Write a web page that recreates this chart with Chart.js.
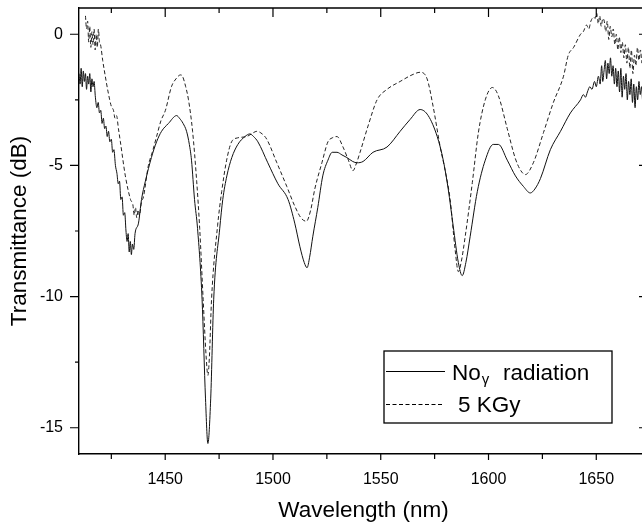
<!DOCTYPE html>
<html>
<head>
<meta charset="utf-8">
<script src="https://cdn.jsdelivr.net/npm/chart.js@4"></script>
<style>
  html, body { margin: 0; padding: 0; background: #fff; overflow: hidden; }
  #wrap { width: 642px; height: 526px; overflow: hidden; }
</style>
</head>
<body>
<div id="wrap"><canvas id="transChart" width="648" height="526"></canvas></div>
<script>
// tick values
const xTicks = [1450, 1500, 1550, 1600, 1650];
const xMinorTicks = [1425, 1475, 1525, 1575, 1625];
const yTicks = [-15, -10, -5, 0];
const yMinorTicks = [-12.5, -7.5, -2.5];

// No gamma radiation (solid)
const wlNoRad = [
  1410, 1410.5, 1411, 1411.5, 1412, 1412.5, 1413, 1413.5, 1414, 1414.5, 1415, 1415.5, 1416, 1416.5, 1417,
  1417.6, 1418.3, 1418.9, 1419.5, 1420.1, 1420.7, 1421.3, 1421.9, 1422.5, 1423.1, 1423.7, 1424.3, 1425,
  1425.6, 1426.2, 1426.9, 1427.6, 1428.2, 1428.8, 1429.4, 1430, 1430.6, 1431.2, 1431.8, 1432.3, 1432.8,
  1433.3, 1433.8, 1434.3, 1434.8, 1435.4, 1436, 1437.6, 1439, 1440.8, 1443.6, 1446, 1448.3, 1451.5,
  1455.3, 1456.6, 1458.3, 1459.9, 1461.2, 1462.2, 1463.6, 1465, 1467.1, 1468.7, 1469.8, 1471.1, 1472.5,
  1475.3, 1476.7, 1478.6, 1480.9, 1483.7, 1487, 1489.3, 1491, 1493, 1497.6, 1502.3, 1507, 1510.1,
  1512.5, 1514.5, 1515.8, 1517, 1518.5, 1520.8, 1523.1, 1525.5, 1527.5, 1529.7, 1532, 1534.3, 1537,
  1539, 1541.8, 1546.4, 1552.9, 1559, 1563.6, 1568.3, 1572, 1576.2, 1579, 1581.3, 1583.6, 1586,
  1587.8, 1589.5, 1591.5, 1594.8, 1598.5, 1602.2, 1604.6, 1608.7, 1612.5, 1616.2, 1619.4, 1621.5,
  1624.1, 1628.7, 1633.4, 1638, 1642.7, 1644, 1645, 1645.9, 1647, 1648, 1649.2, 1650, 1651, 1651.8,
  1652.5, 1653, 1653.6, 1654.2, 1654.8, 1655.4, 1656, 1656.6, 1657.2, 1657.8, 1658.4, 1659, 1659.6,
  1660.2, 1660.8, 1661.4, 1662, 1662.6, 1663.2, 1663.8, 1664.4, 1665, 1665.6, 1666.2, 1666.8, 1667.4,
  1668, 1668.6, 1669.2, 1669.8, 1670.4, 1671, 1671.6, 1672.2, 1673, 1674
];
const dbNoRad = [
  -1.5, -1.9, -1.3, -2.0, -1.4, -1.8, -1.5, -2.1, -1.6, -1.9, -1.5, -2.2, -1.7, -2.0, -1.8,
  -2.4, -2.8, -2.6, -3.0, -2.9, -3.4, -3.2, -3.6, -3.5, -3.9, -3.7, -4.1, -4.0,
  -4.5, -4.4, -5.0, -5.3, -5.7, -5.6, -6.3, -6.2, -6.9, -6.8, -7.5, -7.9, -7.6,
  -8.3, -7.9, -8.4, -8.0, -8.2, -7.6, -7.2, -6.3, -5.6, -4.7, -4.1, -3.7, -3.4,
  -3.1, -3.2, -3.4, -3.7, -4.2, -4.8, -6.3, -7.4, -10.1, -13.9, -15.6, -13.9, -10.1,
  -7.4, -6.3, -5.4, -4.7, -4.2, -3.9, -3.8, -3.9, -4.1, -4.9, -5.7, -6.3, -7.2,
  -8.1, -8.7, -8.9, -8.5, -7.7, -6.6, -5.4, -4.8, -4.5, -4.5, -4.6, -4.7, -4.85,
  -4.9, -4.85, -4.5, -4.3, -3.7, -3.25, -2.87, -3.1, -3.9, -4.8, -5.9, -7.3, -8.7,
  -9.2, -8.7, -7.7, -6.0, -4.8, -4.2, -4.2, -4.8, -5.4, -5.8, -6.05, -5.9,
  -5.5, -4.4, -3.7, -3.0, -2.5, -2.3, -2.4, -2.2, -2.0, -2.1, -1.8, -2.0, -1.6, -1.9,
  -1.2, -1.8, -1.4, -1.0, -1.7, -1.1, -1.5, -0.9, -1.6, -1.2, -1.9, -1.3, -2.0,
  -1.4, -2.2, -1.3, -2.4, -1.6, -2.1, -1.5, -2.5, -1.8, -2.3, -1.7, -2.6, -1.9,
  -2.8, -2.0, -2.5, -1.8, -2.3, -2.0, -2.6, -2.1, -2.4, -2.2
];

// 5 KGy (dashed)
const wl5kGy = [
  1413, 1413.5, 1414, 1414.5, 1415, 1415.5, 1416, 1416.5, 1417, 1417.5, 1418, 1418.5, 1419, 1419.5,
  1420, 1421, 1422.2, 1423.5, 1425, 1426, 1426.7, 1427.4, 1428.3, 1429.2, 1431.5, 1433.9, 1435,
  1435.6, 1436.2, 1436.8, 1437.4, 1438, 1439, 1439.9, 1442.2, 1444, 1446, 1448, 1450.1, 1452.9,
  1455, 1457.1, 1458, 1459.5, 1460.8, 1462.7, 1464.6, 1466, 1467.6, 1469, 1469.8, 1470.5, 1471.5,
  1474.3, 1476.2, 1478.5, 1480.8, 1483.6, 1487.8, 1490, 1492.5, 1495, 1497.1, 1501.8, 1506.4,
  1510.1, 1513, 1515.5, 1517.5, 1519.4, 1522.7, 1525.5, 1527.5, 1529.7, 1532.5, 1535, 1537.1,
  1538.8, 1540.4, 1544.1, 1548.3, 1552.9, 1559, 1564.5, 1568.3, 1571.5, 1574.3, 1577.6, 1579.9,
  1582.2, 1584.5, 1586, 1587.3, 1589.2, 1592.5, 1595.3, 1598.5, 1601.8, 1604.6, 1608.7, 1612.5,
  1615, 1617.1, 1620.8, 1625.5, 1630.1, 1634.8, 1637, 1639.5, 1642.7, 1644, 1645.5, 1646.5,
  1647.5, 1648.8, 1649.5, 1650.2, 1650.9, 1651.6, 1652.3, 1653, 1653.7, 1654.4, 1655.1, 1655.8,
  1656.5, 1657.2, 1657.9, 1658.6, 1659.3, 1660, 1660.7, 1661.4, 1662.1, 1662.8, 1663.5, 1664.2,
  1664.9, 1665.6, 1666.3, 1667, 1667.7, 1668.4, 1669.1, 1669.8, 1670.5, 1671.2, 1671.9, 1672.6,
  1673.3, 1674
];
const db5kGy = [
  0.7, 0.2, 0.5, -0.3, 0.3, -0.5, 0.1, -0.4, 0.2, -0.6, 0.0, -0.5, 0.2, -0.3,
  -0.4, -1.0, -1.6, -2.2, -2.75, -2.9, -3.2, -3.1, -3.6, -4.1, -5.4, -6.3, -6.5,
  -6.9, -6.6, -7.0, -6.7, -6.9, -6.4, -6.2, -5.0, -4.5, -3.9, -3.3, -2.9, -2.0,
  -1.7, -1.55, -1.6, -2.0, -2.5, -3.7, -5.6, -7.4, -10.1, -12.3, -13.0, -12.3, -10.1,
  -7.3, -6.0, -4.8, -4.1, -3.95, -3.9, -3.8, -3.7, -3.8, -4.0, -4.9, -5.8,
  -6.55, -7.0, -7.13, -6.7, -5.9, -4.9, -4.1, -3.95, -3.9, -4.3, -4.8, -5.2,
  -4.9, -4.5, -3.5, -2.5, -2.1, -1.8, -1.55, -1.45, -1.7, -2.75, -4.3, -5.2,
  -6.3, -8.2, -9.05, -8.7, -7.7, -5.65, -3.75, -2.5, -2.03, -2.35, -3.6, -4.75,
  -5.2, -5.35, -4.9, -3.75, -2.6, -1.6, -0.8, -0.5, 0.0, 0.1, 0.35, 0.2,
  0.5, 0.65, 0.6, 0.8, 0.4, 0.7, 0.3, 0.6, 0.5, 0.1, 0.5, -0.2,
  0.3, -0.1, 0.2, -0.4, 0.0, -0.6, -0.1, -0.7, -0.3, -0.9, -0.4, -1.1,
  -0.5, -1.3, -0.6, -1.5, -0.8, -1.2, -0.5, -1.0, -0.6, -1.1, -0.7, -0.9,
  -0.8, -1.0
];

const FONT = "'Liberation Sans', Arial, sans-serif";

const toPoints = (xs, ys) => xs.map((x, i) => ({ x: x, y: ys[i] }));

// top axis line plus all tick marks (Origin style)
const axisFrame = {
  id: "axisFrame",
  afterDraw(chart) {
    const { ctx, chartArea: a, scales } = chart;
    const x = scales.x, y = scales.y;
    ctx.save();
    ctx.strokeStyle = "#000";
    ctx.lineWidth = 1.4;
    ctx.beginPath();
    ctx.moveTo(a.left, a.top);
    ctx.lineTo(a.right, a.top);
    ctx.lineTo(a.right, a.bottom);
    ctx.stroke();
    ctx.lineWidth = 1.2;
    ctx.beginPath();
    const xs = xTicks.map((v) => [v, true]).concat(xMinorTicks.map((v) => [v, false]));
    xs.forEach(([v, major]) => {
      const px = x.getPixelForValue(v);
      ctx.moveTo(px, a.bottom);
      ctx.lineTo(px, a.bottom + (major ? 6 : 5));
      ctx.moveTo(px, a.top);
      ctx.lineTo(px, a.top + (major ? 9 : 5));
    });
    const ys = yTicks.map((v) => [v, true]).concat(yMinorTicks.map((v) => [v, false]));
    ys.forEach(([v, major]) => {
      const py = y.getPixelForValue(v);
      ctx.moveTo(a.left, py);
      ctx.lineTo(a.left - (major ? 9 : 4), py);
      ctx.moveTo(a.right, py);
      ctx.lineTo(a.right - (major ? 9 : 5), py);
    });
    ctx.stroke();
    ctx.restore();
  }
};

// boxed legend with subscript gamma
const boxLegend = {
  id: "boxLegend",
  afterDraw(chart) {
    const ctx = chart.ctx;
    ctx.save();
    ctx.fillStyle = "#fff";
    ctx.fillRect(384, 351, 228, 72);
    ctx.strokeStyle = "#000";
    ctx.lineWidth = 1.3;
    ctx.strokeRect(384, 351, 228, 72);
    ctx.lineWidth = 1;
    ctx.beginPath();
    ctx.moveTo(386, 371.5);
    ctx.lineTo(445, 371.5);
    ctx.stroke();
    ctx.setLineDash([4, 2.5]);
    ctx.beginPath();
    ctx.moveTo(386, 404.5);
    ctx.lineTo(443, 404.5);
    ctx.stroke();
    ctx.setLineDash([]);
    ctx.fillStyle = "#000";
    ctx.textBaseline = "alphabetic";
    ctx.font = "22.5px " + FONT;
    ctx.fillText("No", 452, 380);
    const w = ctx.measureText("No").width;
    ctx.font = "15px " + FONT;
    ctx.fillText("\u03b3", 452 + w + 1, 384);
    ctx.font = "22.5px " + FONT;
    ctx.fillText("radiation", 503, 380);
    ctx.fillText("5 KGy", 458, 412);
    ctx.restore();
  }
};

const ctx = document.getElementById("transChart");
new Chart(ctx, {
  type: "line",
  data: {
    datasets: [
      {
        label: "No radiation",
        data: toPoints(wlNoRad, dbNoRad),
        borderColor: "#111",
        borderWidth: 1,
        pointRadius: 0,
        cubicInterpolationMode: "monotone"
      },
      {
        label: "5 KGy",
        data: toPoints(wl5kGy, db5kGy),
        borderColor: "#222",
        borderWidth: 1,
        borderDash: [4, 2.5],
        pointRadius: 0,
        cubicInterpolationMode: "monotone"
      }
    ]
  },
  options: {
    responsive: false,
    animation: false,
    layout: { padding: { top: 8, right: 0, left: 0, bottom: 0 } },
    plugins: { legend: { display: false }, tooltip: { enabled: false } },
    scales: {
      x: {
        type: "linear",
        position: "bottom",
        min: 1410,
        max: 1674,
        afterBuildTicks: (s) => { s.ticks = xTicks.map((v) => ({ value: v })); },
        afterFit: (s) => { s.height = 72; s.paddingLeft = 0; s.paddingRight = 0; },
        grid: { display: true, drawOnChartArea: false, drawTicks: false },
        border: { display: true, color: "#000", width: 1.4 },
        ticks: { color: "#000", font: { family: FONT, size: 16 }, padding: 16, maxRotation: 0, autoSkip: false, callback: (v) => String(v) },
        title: { display: true, text: "Wavelength (nm)", color: "#000", font: { family: FONT, size: 22.5 }, padding: { top: 0, bottom: 2 } }
      },
      y: {
        type: "linear",
        min: -16,
        max: 1,
        afterBuildTicks: (s) => { s.ticks = yTicks.map((v) => ({ value: v })); },
        afterFit: (s) => { s.width = 79; s.paddingTop = 0; s.paddingBottom = 0; },
        grid: { display: true, drawOnChartArea: false, drawTicks: false },
        border: { display: true, color: "#000", width: 1.4 },
        ticks: { color: "#000", font: { family: FONT, size: 16 }, padding: 16, callback: (v) => String(v) },
        title: { display: true, text: "Transmittance (dB)", color: "#000", font: { family: FONT, size: 22.5 }, padding: { top: 6, bottom: 0 } }
      }
    }
  },
  plugins: [axisFrame, boxLegend]
});
</script>
</body>
</html>
